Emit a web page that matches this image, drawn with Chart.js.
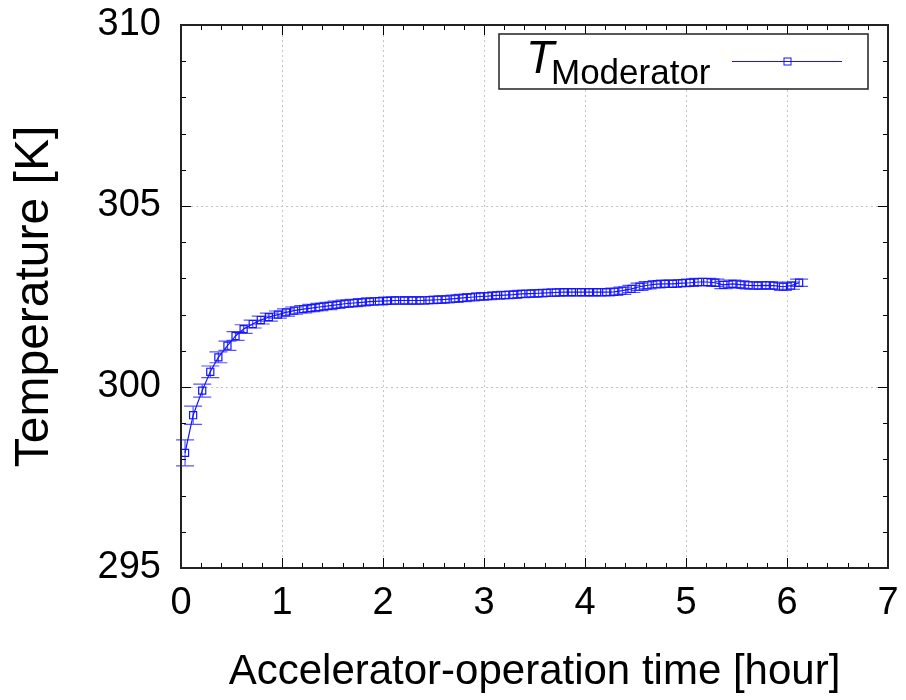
<!DOCTYPE html>
<html>
<head>
<meta charset="utf-8">
<script src="https://cdn.jsdelivr.net/npm/chart.js@4.4.1/dist/chart.umd.min.js"></script>
<style>
  html, body { margin: 0; padding: 0; background: #fff; }
  #wrap { width: 906px; height: 700px; }
</style>
</head>
<body>
<div id="wrap"><canvas id="chartTemp"></canvas></div>
<script>
'use strict';

// data
const timeHours = [
  0.04, 0.12, 0.21, 0.29, 0.37, 0.46, 0.54, 0.62, 0.71, 0.79,
  0.87, 0.96, 1.04, 1.12, 1.21, 1.29, 1.37, 1.46, 1.54, 1.62,
  1.71, 1.79, 1.87, 1.96, 2.04, 2.12, 2.21, 2.29, 2.37, 2.46,
  2.54, 2.62, 2.71, 2.79, 2.87, 2.96, 3.04, 3.12, 3.21, 3.29,
  3.37, 3.46, 3.54, 3.62, 3.71, 3.79, 3.87, 3.96, 4.04, 4.12,
  4.21, 4.29, 4.37, 4.46, 4.54, 4.62, 4.71, 4.79, 4.87, 4.96,
  5.04, 5.12, 5.21, 5.29, 5.37, 5.46, 5.54, 5.62, 5.71, 5.79,
  5.87, 5.96, 6.04, 6.12
];
const tempModerator = [
  298.18, 299.22, 299.90, 300.42, 300.82, 301.14, 301.41, 301.60, 301.74, 301.85,
  301.93, 302.00, 302.06, 302.11, 302.15, 302.18, 302.21, 302.24, 302.27, 302.30,
  302.32, 302.34, 302.36, 302.37, 302.38, 302.39, 302.39, 302.39, 302.39, 302.40,
  302.41, 302.42, 302.44, 302.46, 302.48, 302.50, 302.51, 302.53, 302.54, 302.55,
  302.57, 302.58, 302.59, 302.60, 302.61, 302.62, 302.62, 302.62, 302.62, 302.62,
  302.62, 302.63, 302.66, 302.71, 302.77, 302.81, 302.84, 302.85, 302.85, 302.87,
  302.88, 302.90, 302.90, 302.88, 302.82, 302.85, 302.83, 302.81, 302.80, 302.81,
  302.80, 302.77, 302.80, 302.88
];
const tempError = [
  0.36, 0.25, 0.18, 0.16, 0.15, 0.13, 0.12, 0.12, 0.11, 0.11,
  0.11, 0.10, 0.10, 0.10, 0.10, 0.10, 0.10, 0.10, 0.10, 0.10,
  0.10, 0.10, 0.10, 0.10, 0.10, 0.10, 0.10, 0.10, 0.10, 0.10,
  0.10, 0.10, 0.10, 0.10, 0.10, 0.10, 0.10, 0.10, 0.10, 0.10,
  0.10, 0.10, 0.10, 0.10, 0.10, 0.10, 0.10, 0.10, 0.10, 0.10,
  0.10, 0.10, 0.10, 0.10, 0.10, 0.10, 0.10, 0.10, 0.10, 0.10,
  0.10, 0.10, 0.10, 0.10, 0.10, 0.10, 0.10, 0.10, 0.10, 0.10,
  0.10, 0.10, 0.10, 0.10
];
const xTicks = [0, 1, 2, 3, 4, 5, 6, 7];
const yTicks = [295, 300, 305, 310];
const xMinorStep = 0.2;
const yMinorStep = 1;

const FONT = '"Liberation Sans", Arial, Helvetica, sans-serif';
const BLUE = 'rgb(20,20,255)';

// error bars, drawn through the chart's own scales
const errorBarPlugin = {
  id: 'errorBars',
  beforeDatasetsDraw(chart){
    const {ctx, scales: {x, y}} = chart;
    ctx.save();
    ctx.strokeStyle = 'rgba(40,40,255,0.8)';
    ctx.lineWidth = 1.2;
    const cap = 9;
    timeHours.forEach((t, i) => {
      const px = x.getPixelForValue(t);
      const lo = y.getPixelForValue(tempModerator[i] - tempError[i]);
      const hi = y.getPixelForValue(tempModerator[i] + tempError[i]);
      ctx.beginPath();
      ctx.moveTo(px, lo); ctx.lineTo(px, hi);
      ctx.moveTo(px - cap, lo); ctx.lineTo(px + cap, lo);
      ctx.moveTo(px - cap, hi); ctx.lineTo(px + cap, hi);
      ctx.stroke();
    });
    ctx.restore();
  }
};

// gnuplot-ish frame with inward major/minor ticks on all four sides
const framePlugin = {
  id: 'frame',
  afterDatasetsDraw(chart){
    const {ctx, chartArea: a, scales: {x, y}} = chart;
    ctx.save();
    ctx.strokeStyle = '#000';
    ctx.lineWidth = 1;
    const tick = (x1, y1, x2, y2) => { ctx.moveTo(x1, y1); ctx.lineTo(x2, y2); };
    ctx.beginPath();
    for(let v = x.min; v <= x.max + 1e-9; v += xMinorStep){
      const px = Math.round(x.getPixelForValue(v)) + 0.5;
      const major = Math.abs(v - Math.round(v)) < 1e-6;
      const len = major ? 10 : 5;
      tick(px, a.bottom, px, a.bottom - len);
      tick(px, a.top, px, a.top + len);
    }
    for(let v = y.min; v <= y.max + 1e-9; v += yMinorStep){
      const py = Math.round(y.getPixelForValue(v)) + 0.5;
      const major = Math.abs(v % 5) < 1e-6;
      const len = major ? 10 : 5;
      tick(a.left, py, a.left + len, py);
      tick(a.right, py, a.right - len, py);
    }
    ctx.stroke();
    ctx.lineWidth = 2;
    ctx.strokeStyle = '#222';
    ctx.strokeRect(a.left, a.top, a.right - a.left, a.bottom - a.top);
    ctx.restore();
  }
};

// key box with T subscript "Moderator"
const keyPlugin = {
  id: 'keyBox',
  afterDraw(chart){
    const {ctx} = chart;
    ctx.save();
    ctx.fillStyle = '#fff';
    ctx.fillRect(499, 34, 369, 55);
    ctx.strokeStyle = '#222';
    ctx.lineWidth = 1.5;
    ctx.strokeRect(499, 34, 369, 55);
    ctx.fillStyle = '#000';
    ctx.textBaseline = 'alphabetic';
    ctx.font = 'italic 46px ' + FONT;
    ctx.fillText('T', 526, 73);
    ctx.font = '35px ' + FONT;
    ctx.fillText('Moderator', 551, 84);
    ctx.strokeStyle = BLUE;
    ctx.lineWidth = 1;
    ctx.beginPath();
    ctx.moveTo(732, 61.5); ctx.lineTo(842, 61.5);
    ctx.stroke();
    ctx.strokeRect(784, 58, 7, 7);
    ctx.restore();
  }
};

const ctx = document.getElementById('chartTemp');
new Chart(ctx, {
  type: 'line',
  data: {
    datasets: [{
      label: 'T_Moderator',
      data: timeHours.map((t, i) => ({x: t, y: tempModerator[i]})),
      borderColor: BLUE,
      borderWidth: 1.2,
      pointStyle: 'rect',
      pointRadius: 5,
      pointBorderWidth: 1.2,
      pointBorderColor: BLUE,
      pointBackgroundColor: 'rgba(0,0,0,0)',
      tension: 0
    }]
  },
  plugins: [errorBarPlugin, framePlugin, keyPlugin],
  options: {
    responsive: true,
    maintainAspectRatio: false,
    animation: false,
    layout: { padding: { top: 25, right: 18, left: 0, bottom: 0 } },
    plugins: { legend: { display: false }, tooltip: { enabled: false } },
    scales: {
      x: {
        type: 'linear',
        min: 0, max: 7,
        afterBuildTicks: s => { s.ticks = xTicks.map(v => ({value: v})); },
        afterFit: s => { s.height = 132; s.paddingLeft = 0; s.paddingRight = 0; },
        ticks: { color: '#000', padding: 13, font: { family: FONT, size: 38 } },
        grid: { color: '#c4c4c4', lineWidth: 1, drawTicks: false },
        border: { display: false, dash: [2, 3] },
        title: { display: true, text: 'Accelerator-operation time [hour]', color: '#000',
                 font: { family: FONT, size: 42 }, padding: { top: 0, bottom: 2 } }
      },
      y: {
        type: 'linear',
        min: 295, max: 310,
        afterBuildTicks: s => { s.ticks = yTicks.map(v => ({value: v})); },
        afterFit: s => { s.width = 181; s.paddingTop = 0; s.paddingBottom = 0; },
        ticks: { color: '#000', padding: 20, font: { family: FONT, size: 38 } },
        grid: { color: '#c4c4c4', lineWidth: 1, drawTicks: false },
        border: { display: false, dash: [2, 3] },
        title: { display: true, text: 'Temperature [K]', color: '#000',
                 font: { family: FONT, size: 48 }, padding: { top: 6, bottom: 0 } }
      }
    }
  }
});
</script>
</body>
</html>
